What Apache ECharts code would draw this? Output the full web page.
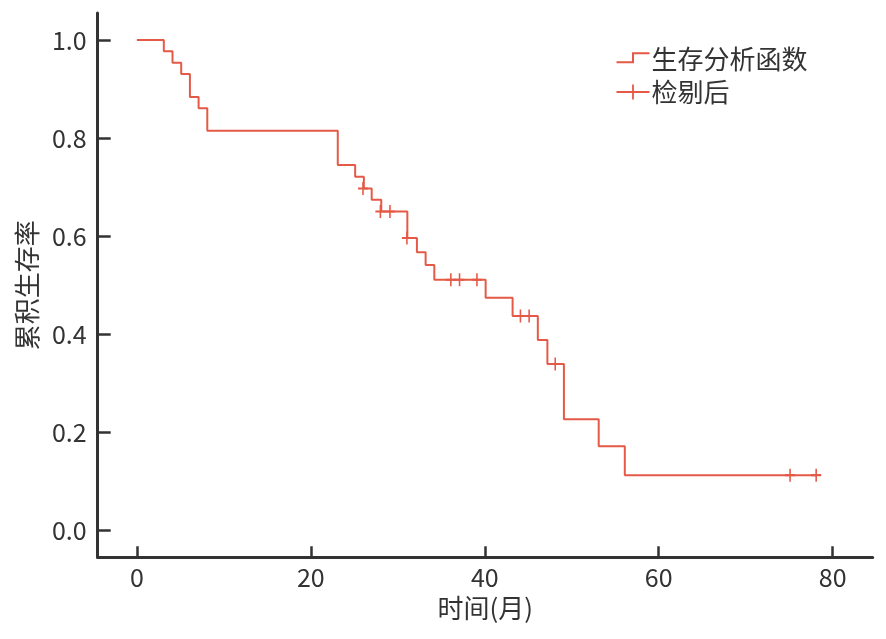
<!DOCTYPE html>
<html>
<head>
<meta charset="utf-8">
<script src="https://cdn.jsdelivr.net/npm/echarts@6/dist/echarts.min.js"></script>
<style>
html,body{margin:0;padding:0;background:#fff;}
#chart{width:886px;height:639px;}
</style>
</head>
<body>
<div id="chart"></div>
<script>
// Kaplan-Meier step curve (time in months, cumulative survival)
var stepTimes = [0, 3.1, 4.1, 5.1, 6.1, 7.1, 8.1, 23.1, 25.1, 26.1, 27.0, 28.1, 31.1, 32.2, 33.2, 34.2, 40.1, 43.2, 46.1, 47.2, 49.1, 53.1, 56.1, 78.1];
var stepSurv  = [1.0, 0.977, 0.954, 0.931, 0.884, 0.861, 0.815, 0.745, 0.721, 0.697, 0.674, 0.650, 0.596, 0.567, 0.541, 0.511, 0.474, 0.437, 0.388, 0.339, 0.226, 0.171, 0.112, 0.112];
// censored observations
var censorTimes = [26.0, 28.0, 29.1, 31.05, 36.1, 37.1, 39.1, 44.1, 45.1, 48.1, 75.1, 78.1];
var censorSurv  = [0.697, 0.650, 0.650, 0.596, 0.511, 0.511, 0.511, 0.437, 0.437, 0.339, 0.112, 0.112];
var xTicks = [0, 20, 40, 60, 80];
var yTicks = [0, 0.2, 0.4, 0.6, 0.8, 1.0];
var seriesNames = ['生存分析函数', '检剔后'];
var xTitle = '时间(月)';
var yTitle = '累积生存率';

var RED = '#e45a47';
var AX = '#333333';
var FONT = '"Noto Sans CJK SC", "Noto Sans", sans-serif';

var stepData = stepTimes.map(function (t, i) { return [t, stepSurv[i]]; });
var censorData = censorTimes.map(function (t, i) { return [t, censorSurv[i]]; });

var chart = echarts.init(document.getElementById('chart'), null, {renderer: 'canvas'});
chart.setOption({
  animation: false,
  backgroundColor: '#fff',
  textStyle: {fontFamily: FONT},
  grid: {left: 97.7, right: 13.3, top: 13, bottom: 81.7, containLabel: false},
  legend: {
    left: 614, top: 46, orient: 'vertical', padding: 0,
    itemWidth: 33, itemHeight: 15, itemGap: 7,
    textStyle: {fontSize: 26, color: AX, fontFamily: FONT, padding: [0, 0, 0, -3], lineHeight: 26},
    data: [
      {name: seriesNames[0], icon: 'path://M0,0L0.01,0L0.01,0.01Z M0,9.8L15.5,9.8L15.5,0.8L33,0.8L33,2.8L17.5,2.8L17.5,11.8L0,11.8Z M33,15L32.99,15L32.99,14.99Z'},
      {name: seriesNames[1], icon: 'path://M0,7.5L33,7.5M16.5,0L16.5,15',
        itemStyle: {color: 'none', borderColor: RED, borderWidth: 1.8}}
    ]
  },
  xAxis: {
    type: 'value', min: -4.5, max: 84.6,
    name: xTitle, nameLocation: 'middle', nameGap: 38,
    nameTextStyle: {fontSize: 26, color: AX, fontFamily: FONT},
    splitLine: {show: false},
    axisLine: {show: true, onZero: false, lineStyle: {color: AX, width: 3}},
    axisTick: {show: true, inside: true, length: 11, customValues: xTicks, lineStyle: {color: AX, width: 2.5}},
    axisLabel: {customValues: xTicks, fontSize: 25, color: AX, margin: 8, fontFamily: FONT}
  },
  yAxis: {
    type: 'value', min: -0.0557, max: 1.0553,
    name: yTitle, nameLocation: 'middle', nameGap: 58, nameRotate: 90,
    nameTextStyle: {fontSize: 26, color: AX, fontFamily: FONT},
    splitLine: {show: false},
    axisLine: {show: true, onZero: false, lineStyle: {color: AX, width: 3}},
    axisTick: {show: true, inside: true, length: 13, customValues: yTicks, lineStyle: {color: AX, width: 2.5}},
    axisLabel: {customValues: yTicks, fontSize: 25, color: AX, margin: 11, fontFamily: FONT,
      formatter: function (v) { return v.toFixed(1); }}
  },
  series: [
    {
      name: seriesNames[0], type: 'line', step: 'end', data: stepData,
      showSymbol: false, symbol: 'none',
      lineStyle: {color: RED, width: 2}, itemStyle: {color: RED}
    },
    {
      name: seriesNames[1], type: 'scatter', data: censorData,
      symbol: 'path://M0,6L12,6M6,0L6,12', symbolSize: [10, 13],
      itemStyle: {color: 'none', borderColor: RED, borderWidth: 1.8, opacity: 1},
      z: 3
    }
  ]
});
</script>
</body>
</html>
